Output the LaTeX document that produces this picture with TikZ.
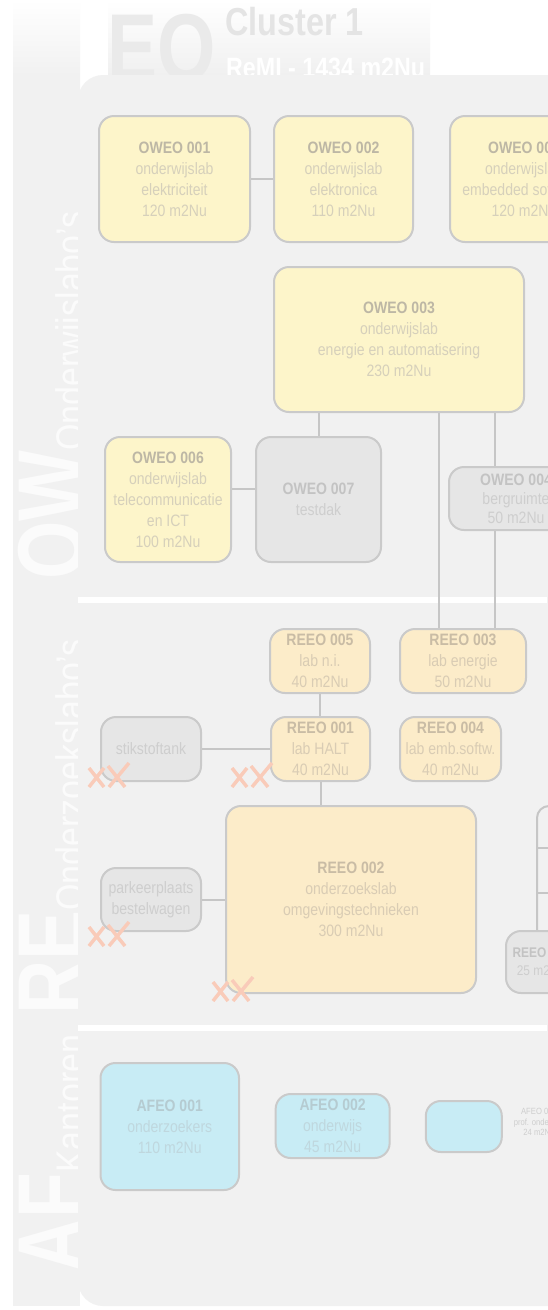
\documentclass[tikz,border=0pt]{standalone}
\usepackage{fontspec}
\setmainfont{Liberation Sans}[FakeStretch=0.85]
\newfontfamily\bigfont{Liberation Sans}[FakeStretch=0.79]
\newfontfamily\hdfont{Liberation Sans}[FakeStretch=0.83]
\definecolor{panelc}{HTML}{F1F1F1}
\definecolor{stripc}{HTML}{F1F1F1}
\definecolor{stripl}{HTML}{FBFBFB}
\definecolor{hdg}{HTML}{F0F0F0}
\definecolor{eoc}{HTML}{EAEAEA}
\definecolor{clc}{HTML}{E4E4E4}
\definecolor{bordc}{HTML}{CACACA}
\definecolor{connc}{HTML}{C6C6C6}
\definecolor{owfill}{HTML}{FDF5CA}
\definecolor{owttl}{HTML}{BDB7A5}
\definecolor{owbody}{HTML}{D6D0BB}
\definecolor{refill}{HTML}{FCECC9}
\definecolor{rettl}{HTML}{C9BCA5}
\definecolor{rebody}{HTML}{D9CCB4}
\definecolor{grfill}{HTML}{E6E6E6}
\definecolor{grttl}{HTML}{C3C3C3}
\definecolor{grbody}{HTML}{CECECE}
\definecolor{blfill}{HTML}{C8ECF5}
\definecolor{blttl}{HTML}{B5CBD1}
\definecolor{blbody}{HTML}{BFD7DE}
\definecolor{crossc}{HTML}{F9CBB9}
\colorlet{ttl}{owttl}
\newcommand\T[1]{{\bfseries\color{ttl}#1}}
\newcommand\xxmark[2]{%
  \begin{scope}[shift={(#1,#2)}]
    \draw[cross] (0,5) -- (15,24) (15,5) -- (0,24);
    \draw[cross] (19,3) -- (36,24) (40,0) -- (20,24);
  \end{scope}}
\begin{document}
\begin{tikzpicture}[x=1pt,y=-1pt,
  box/.style={draw=bordc, line width=2pt, rounded corners=15pt, inner sep=0pt, align=center, font=\fontsize{16.5}{21}\selectfont},
  ow/.style={box, fill=owfill, text=owbody, execute at begin node={\colorlet{ttl}{owttl}}},
  re/.style={box, fill=refill, text=rebody, execute at begin node={\colorlet{ttl}{rettl}}},
  gr/.style={box, fill=grfill, text=grbody, execute at begin node={\colorlet{ttl}{grttl}}},
  bl/.style={box, fill=blfill, text=blbody, execute at begin node={\colorlet{ttl}{blttl}}},
  conn/.style={draw=connc, line width=2pt},
  lbl/.style={rotate=90, anchor=base west, inner sep=0pt, text=stripl},
  cross/.style={draw=crossc, line width=3.5pt},
  sz/.style 2 args={minimum width=#1, minimum height=#2},
]
\useasboundingbox (0,0) rectangle (547,1310);
\fill[white] (0,0) rectangle (547,1310);
% header
\shade[top color=white, bottom color=hdg] (108,0) rectangle (430,75);
\node[anchor=base west, inner sep=0pt, text=eoc, font=\bigfont\bfseries\fontsize{95}{95}\selectfont] (eo) at (107,80) {EO};
\node[anchor=base west, inner sep=0pt, text=clc, font=\hdfont\bfseries\fontsize{39}{39}\selectfont] (cluster) at (225,35) {Cluster 1};
\node[anchor=base west, inner sep=0pt, text=white, font=\hdfont\bfseries\fontsize{28}{28}\selectfont] (remi) at (226,77) {ReMI - 1434 m2Nu};
% left strip with labels
\shade[top color=white, bottom color=stripc, middle color=stripc] (13,0) rectangle (80,150);
\fill[stripc] (13,149) rectangle (80,1306);
\node[lbl] (lblow) at (84,580) {{\bigfont\bfseries\fontsize{95}{95}\selectfont OW}\fontsize{40}{40}\selectfont Onderwijslabo's};
\node[lbl] (lblre) at (84,1015) {{\bigfont\bfseries\fontsize{95}{95}\selectfont RE}\fontsize{40}{40}\selectfont Onderzoekslabo's};
\node[lbl] (lblaf) at (84,1273) {{\bigfont\bfseries\fontsize{95}{95}\selectfont AF}\fontsize{40}{40}\selectfont Kantoren};
% panel
\fill[panelc, rounded corners=25pt] (78,75) rectangle (620,1306);
\fill[white] (78,597) rectangle (547,603);
\fill[white] (78,1025) rectangle (547,1031);
% OW boxes
\node[ow, sz={151}{126}] (oweo001) at (174.5,179) {\T{OWEO 001}\\onderwijslab\\elektriciteit\\120 m2Nu};
\node[ow, sz={139}{126}] (oweo002) at (343.5,179) {\T{OWEO 002}\\onderwijslab\\elektronica\\110 m2Nu};
\node[ow, sz={148}{126}] (oweo005) at (524,179) {\T{OWEO 005}\\onderwijslab\\embedded software\\120 m2Nu};
\node[ow, sz={250}{145}] (oweo003) at (399,339.5) {\T{OWEO 003}\\onderwijslab\\energie en automatisering\\230 m2Nu};
\node[ow, sz={126}{125}] (oweo006) at (168,499.5) {\T{OWEO 006}\\onderwijslab\\telecommunicatie\\en ICT\\100 m2Nu};
\node[gr, sz={125}{125}] (oweo007) at (318.5,499.5) {\T{OWEO 007}\\testdak};
\node[gr, sz={134}{63}, font=\fontsize{16.5}{19}\selectfont] (oweo004) at (516,498.5) {\T{OWEO 004}\\bergruimte\\50 m2Nu};
% RE boxes
\node[re, sz={100}{64}] (reeo005) at (320,661) {\T{REEO 005}\\lab n.i.\\40 m2Nu};
\node[re, sz={126}{64}] (reeo003) at (463,661) {\T{REEO 003}\\lab energie\\50 m2Nu};
\node[gr, sz={100}{64}] (stikstof) at (151,749) {stikstoftank};
\node[re, sz={99}{64}] (reeo001) at (320.5,749) {\T{REEO 001}\\lab HALT\\40 m2Nu};
\node[re, sz={101}{64}] (reeo004) at (450.5,749) {\T{REEO 004}\\lab emb.softw.\\40 m2Nu};
\node[re, sz={250}{187}] (reeo002) at (351,899.5) {\T{REEO 002}\\onderzoekslab\\omgevingstechnieken\\300 m2Nu};
\node[gr, sz={100}{63}] (parkeer) at (151,899.5) {parkeerplaats\\bestelwagen};
\node[gr, sz={70}{62}, font=\fontsize{14}{18}\selectfont] (reeo006) at (541,962) {\T{REEO 006}\\25 m2Nu};
% AF boxes
\node[bl, sz={138.5}{127}] (afeo001) at (169.75,1126.5) {\T{AFEO 001}\\onderzoekers\\110 m2Nu};
\node[bl, sz={114}{64}] (afeo002) at (332.65,1126) {\T{AFEO 002}\\onderwijs\\45 m2Nu};
\node[bl, sz={76}{51}] (afeo00x) at (463.8,1126.5) {};
\node[inner sep=0pt, align=center, text=grbody, font=\fontsize{9}{10.5}\selectfont] (afeo003) at (539,1122) {AFEO 003\\prof. onderwijs\\24 m2Nu};
% connectors
\coordinate (va) at (438.5,0);
\coordinate (vb) at (494.7,0);
\coordinate (rv) at (537,0);
\coordinate (rtop) at (560,806);
\coordinate (rh1) at (560,848);
\coordinate (rh2) at (560,893);
\draw[conn] (oweo001) -- (oweo002);
\draw[conn] ([yshift=10.5pt]oweo006.east) -- ([yshift=10.5pt]oweo006.east -| oweo007.west);
\draw[conn] (oweo003.south -| oweo007.north) -- (oweo007.north);
\draw[conn] (va |- oweo003.south) -- (va |- reeo003.north);
\draw[conn] (vb |- oweo003.south) -- (vb |- oweo004.north);
\draw[conn] (vb |- oweo004.south) -- (vb |- reeo003.north);
\draw[conn] (reeo005.south) -- (reeo005.south |- reeo001.north);
\draw[conn] (reeo001.south) -- (reeo001.south |- reeo002.north);
\draw[conn] (stikstof) -- (reeo001);
\draw[conn] (parkeer) -- (reeo002);
\draw[conn, rounded corners=12pt] (rtop) -- (rv |- rtop) -- (rv |- reeo006.north);
\draw[conn] (rv |- rh1) -- (rh1);
\draw[conn] (rv |- rh2) -- (rh2);
% crosses
\xxmark{89}{763}
\xxmark{232}{763}
\xxmark{89}{922}
\xxmark{213}{977}
\end{tikzpicture}
\end{document}
